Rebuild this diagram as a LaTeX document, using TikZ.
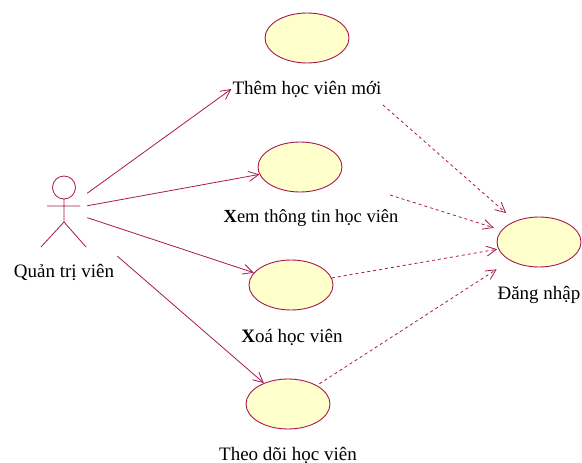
\documentclass[tikz,border=0pt]{standalone}
\usepackage{fontspec}
\setmainfont{Liberation Serif}
\usetikzlibrary{shapes.geometric,arrows.meta}
\definecolor{umlred}{RGB}{168,24,80}
\definecolor{umlfill}{RGB}{255,255,204}

\begin{document}
\begin{tikzpicture}[x=1pt,y=-1pt,
  usecase/.style={ellipse,draw=umlred,fill=umlfill,line width=0.9pt,
    minimum width=84pt,minimum height=50pt,inner sep=0pt},
  lbl/.style={font=\fontsize{19}{21}\selectfont,inner sep=0pt},
  assoc/.style={draw=umlred,line width=0.8pt,-{Straight Barb[length=10pt,width=10pt]}},
  incl/.style={draw=umlred,line width=0.8pt,dash pattern=on 3pt off 3pt,
    -{Straight Barb[length=10pt,width=10pt]}}]
\useasboundingbox (0,0) rectangle (582,463);
% actor
\node [minimum width=46pt,minimum height=48pt,inner sep=0pt] (actor) at (64,210) {};
\draw [umlred,line width=0.8pt] (64,187.5) circle [radius=11.5]
(64,199) -- (64,222)
(47,206) -- (80,206)
(41,247) -- (64,222) -- (86,247);
\node [lbl] (lblActor) at (64,272) {Quản trị viên};
% use cases
\node [usecase] (ellThem) at (307,38) {};
\node [lbl] (lblThem) at (307,89) {Thêm học viên mới};
\node [usecase] (ellXem) at (300,167) {};
\node [lbl,font=\fontsize{18.5}{21}\selectfont] (lblXem) at (311,218) {\textbf{X}em thông tin học viên};
\node [usecase] (ellXoa) at (291,285) {};
\node [lbl] (lblXoa) at (292,337) {\textbf{X}oá học viên};
\node [usecase] (ellTheo) at (288,404) {};
\node [lbl] (lblTheo) at (288,455) {Theo dõi học viên};
\node [usecase] (login) at (539,242) {};
\node [lbl] (lblLogin) at (539,295) {Đăng nhập};
% associations
\draw [assoc] (actor) -- ([xshift=-1pt]lblThem.west);
\draw [assoc] (actor) -- (ellXem);
\draw [assoc] (actor) -- (ellXoa);
\draw [assoc,shorten <=40pt] (actor) -- (ellTheo);
% include
\coordinate (fromThem) at (383,105);
\coordinate (fromXem) at (390,195);
\draw [incl,shorten >=12pt] (fromThem) -- (login);
\draw [incl,shorten >=8pt] (fromXem) -- (login);
\draw [incl,shorten >=1pt] (ellXoa) -- (login);
\draw [incl,shorten >=16pt,shorten <=3pt] (ellTheo) -- (login);
\end{tikzpicture}
\end{document}
